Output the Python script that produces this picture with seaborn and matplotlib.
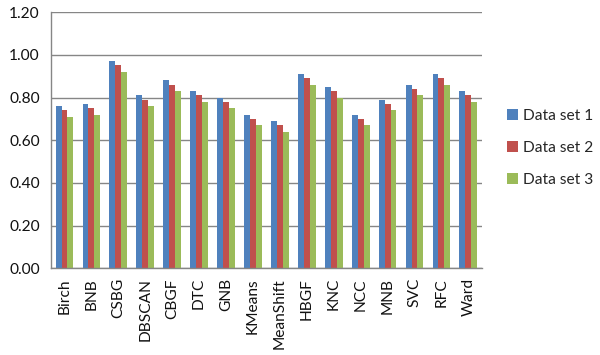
import matplotlib
matplotlib.use("Agg")
import matplotlib.pyplot as plt
import seaborn as sns
import pandas as pd
import numpy as np
from matplotlib.ticker import FixedLocator

categories = ["Birch", "BNB", "CSBG", "DBSCAN", "CBGF", "DTC", "GNB", "KMeans",
              "MeanShift", "HBGF", "KNC", "NCC", "MNB", "SVC", "RFC", "Ward"]
series_names = ["Data set 1", "Data set 2", "Data set 3"]
set1 = [0.76, 0.77, 0.97, 0.81, 0.88, 0.83, 0.80, 0.72, 0.69, 0.91, 0.85, 0.72, 0.79, 0.86, 0.91, 0.83]
set2 = [0.74, 0.75, 0.95, 0.79, 0.86, 0.81, 0.78, 0.70, 0.67, 0.89, 0.83, 0.70, 0.77, 0.84, 0.89, 0.81]
set3 = [0.71, 0.72, 0.92, 0.76, 0.83, 0.78, 0.75, 0.67, 0.64, 0.86, 0.80, 0.67, 0.74, 0.81, 0.86, 0.78]
y_ticks = [0.0, 0.2, 0.4, 0.6, 0.8, 1.0, 1.2]

rows = []
for name, vals in zip(series_names, [set1, set2, set3]):
    for c, v in zip(categories, vals):
        rows.append({"cat": c, "series": name, "value": v})
df = pd.DataFrame(rows)

sns.set_style("white")
plt.rcParams["font.family"] = ["Lato", "DejaVu Sans"]

fig = plt.figure(figsize=(6.0, 3.55), dpi=100)
ax = fig.add_axes([0.085, 0.244, 0.718, 0.722])

palette = ["#4F81BD", "#C0504D", "#9BBB59"]
sns.barplot(data=df, x="cat", y="value", hue="series", order=categories,
            hue_order=series_names, palette=palette, width=0.66,
            saturation=1, ax=ax, linewidth=0, errorbar=None)

fs = 11.2
n = len(categories)
ax.set_xlim(-0.5, n - 0.5)
ax.set_ylim(0, 1.2)
ax.set_yticks(y_ticks)
ax.set_yticklabels([f"{t:.2f}" for t in y_ticks], fontsize=fs, color="#111111")
ax.yaxis.grid(True, color="#868686", linewidth=1)
ax.set_axisbelow(True)
ax.set_xlabel("")
ax.set_ylabel("")

ax.set_xticks(range(n))
ax.set_xticklabels(categories, rotation=90, fontsize=fs, va="top", ha="center", color="#111111")
ax.tick_params(axis="x", which="major", length=0, pad=7)
ax.xaxis.set_minor_locator(FixedLocator(np.arange(-0.5, n, 1.0)))
ax.tick_params(axis="x", which="minor", length=4, color="#868686", width=1, direction="out")
ax.tick_params(axis="y", length=4, color="#868686", width=1, direction="out", pad=4)

for s in ["top", "right"]:
    ax.spines[s].set_visible(False)
for s in ["left", "bottom"]:
    ax.spines[s].set_color("#868686")
    ax.spines[s].set_linewidth(1)

handles, labels = ax.get_legend_handles_labels()
ax.legend(handles, labels, loc="center left", bbox_to_anchor=(1.025, 0.47),
          frameon=False, fontsize=fs, handlelength=0.75, handleheight=0.75,
          labelspacing=1.15, handletextpad=0.3)

fig.savefig("out.png", dpi=100)
